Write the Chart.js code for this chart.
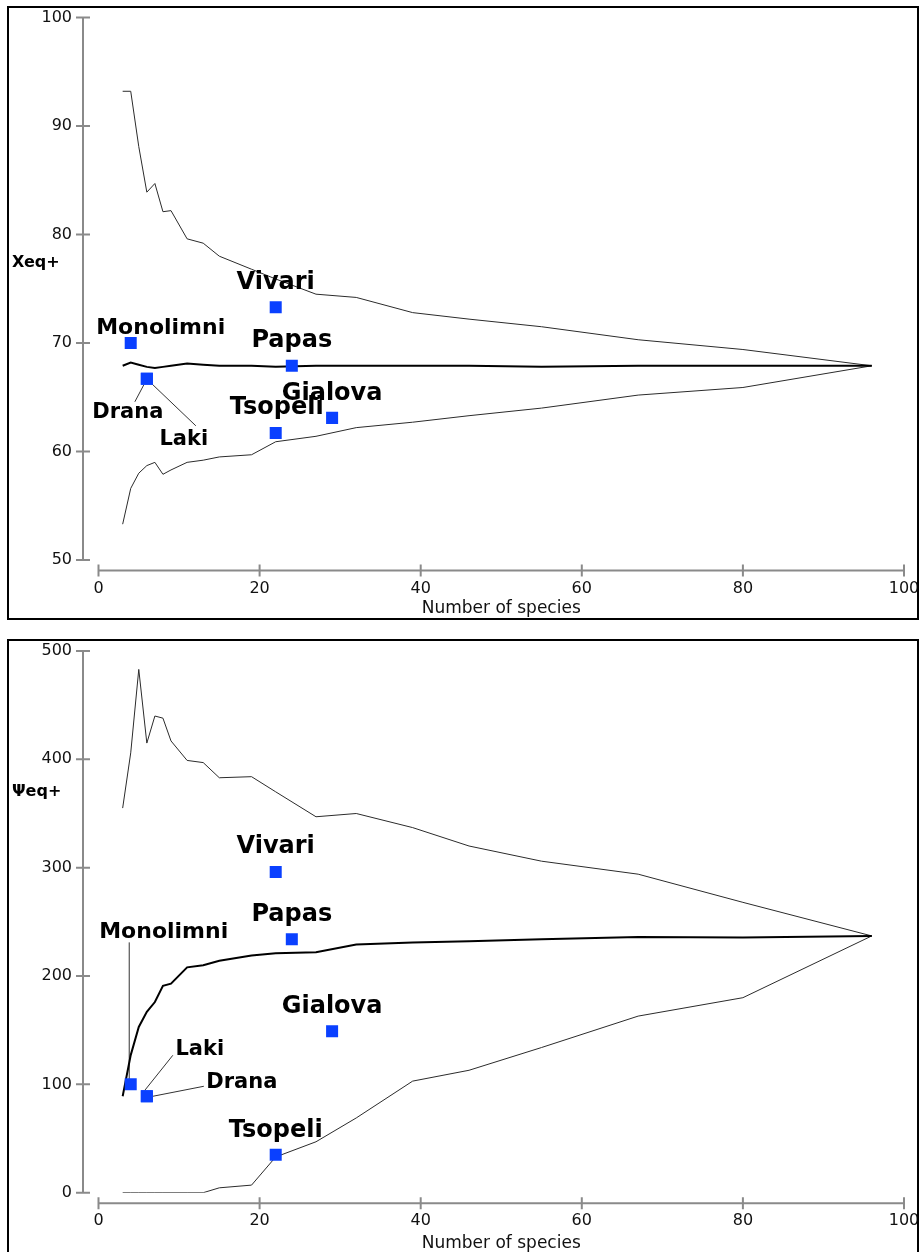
<!DOCTYPE html>
<html>
<head>
<meta charset="utf-8">
<script src="https://cdn.jsdelivr.net/npm/chart.js@4/dist/chart.umd.min.js"></script>
<style>
  html, body { margin: 0; padding: 0; background: #fff; width: 924px; height: 1252px; overflow: hidden; }
  .panel { position: absolute; left: 7px; width: 908px; border: 2px solid #000; background: #fff; }
  #p1 { top: 6px; height: 610px; }
  #p2 { top: 639px; height: 612px; }
  canvas { display: block; }
</style>
</head>
<body>
<div class="panel" id="p1"><canvas id="c1" width="908" height="610"></canvas></div>
<div class="panel" id="p2"><canvas id="c2" width="908" height="612"></canvas></div>
<script>
// Rarefaction steps (number of species) for the expected-value envelopes
const speciesSteps = [3, 4, 5, 6, 7, 8, 9, 11, 13, 15, 19, 22, 27, 32, 39, 46, 55, 67, 80, 96];

// Xeq+ : upper limit, mean, lower limit
const xeqUpper = [93.2, 93.2, 88.1, 83.9, 84.7, 82.1, 82.2, 79.6, 79.2, 78.0, 76.8, 75.9, 74.5, 74.2, 72.8, 72.2, 71.5, 70.3, 69.4, 67.9];
const xeqMean  = [67.9, 68.2, 68.0, 67.8, 67.7, 67.8, 67.9, 68.1, 68.0, 67.9, 67.9, 67.8, 67.9, 67.9, 67.9, 67.9, 67.8, 67.9, 67.9, 67.9];
const xeqLower = [53.3, 56.6, 58.0, 58.7, 59.0, 57.9, 58.3, 59.0, 59.2, 59.5, 59.7, 60.9, 61.4, 62.2, 62.7, 63.3, 64.0, 65.2, 65.9, 67.9];

// Ψeq+ : upper limit, mean, lower limit
const psiUpper = [355, 406, 483, 415, 440, 438, 417, 399, 397, 383, 384, 370, 347, 350, 337, 320, 306, 294, 268, 237];
const psiMean  = [89, 127, 153, 167, 176, 191, 193, 208, 210, 214, 219, 221, 222, 229, 231, 232, 234, 236, 235.5, 237];
const psiLower = [0, 0, 0, 0, 0, 0, 0, 0, 0, 4.5, 7, 33, 47, 69, 103, 113, 134, 163, 180, 237];

// Sampled sites
const sites       = ['Monolimni', 'Drana', 'Laki', 'Vivari', 'Papas', 'Gialova', 'Tsopeli'];
const siteSpecies = [4, 6, 6, 22, 24, 29, 22];
const siteXeq     = [70.0, 66.7, 66.7, 73.3, 67.9, 63.1, 61.7];
const sitePsi     = [100, 89, 89, 296, 234, 149, 35];

// Axis ticks
const xTicks   = [0, 20, 40, 60, 80, 100];
const xeqTicks = [50, 60, 70, 80, 90, 100];
const psiTicks = [0, 100, 200, 300, 400, 500];

// Placement of the site names around their markers (pixels)
const xeqLabelLayout = {
  Monolimni: { dx: 30, dy: -9, size: 22 },
  Drana:     { dx: -19, dy: 39, size: 21, leader: [-3, 6, -12, 23] },
  Laki:      { dx: 37, dy: 66, size: 21, leader: [5, 5, 49, 47] },
  Vivari:    { dx: 0, dy: -18, size: 24 },
  Papas:     { dx: 0, dy: -19, size: 24 },
  Gialova:   { dx: 0, dy: -18, size: 24 },
  Tsopeli:   { dx: 1, dy: -19, size: 24 }
};
const psiLabelLayout = {
  Monolimni: { dx: 33, dy: -146, size: 22, leader: [-1.5, -142, -1.5, -2] },
  Drana:     { dx: 95, dy: -8, size: 21, leader: [6, 0, 57, -10] },
  Laki:      { dx: 53, dy: -41, size: 21, leader: [-2, -6, 26, -41] },
  Vivari:    { dx: 0, dy: -19, size: 24 },
  Papas:     { dx: 0, dy: -18, size: 24 },
  Gialova:   { dx: 0, dy: -18, size: 24 },
  Tsopeli:   { dx: 0, dy: -18, size: 24 }
};

Chart.defaults.font.family = '"DejaVu Sans", sans-serif';
Chart.defaults.color = '#111';

const toPoints = (xs, ys) => xs.map((x, i) => ({ x: x, y: ys[i] }));

// Keep the plot area fixed: tick labels may overhang the frame
const noOverhang = s => { s.paddingTop = 0; s.paddingBottom = 0; s.paddingLeft = 0; s.paddingRight = 0; };

// Detached axes: a grey line with crossing tick marks, offset from the plot area
const detachedAxes = {
  id: 'detachedAxes',
  beforeDatasetsDraw(chart) {
    const { ctx, scales: { x, y }, chartArea } = chart;
    ctx.save();
    ctx.strokeStyle = '#8a8a8a';
    ctx.lineWidth = 2;
    const ax = chartArea.left - 15.5;
    const ay = chartArea.bottom + 10.5;
    const yTop = y.getPixelForValue(y.max), yBot = y.getPixelForValue(y.min);
    ctx.beginPath();
    ctx.moveTo(ax, yTop); ctx.lineTo(ax, yBot);
    y.ticks.forEach(t => {
      const py = y.getPixelForValue(t.value);
      ctx.moveTo(ax - 7, py); ctx.lineTo(ax + 7, py);
    });
    const xL = x.getPixelForValue(x.min), xR = x.getPixelForValue(x.max);
    ctx.moveTo(xL, ay); ctx.lineTo(xR, ay);
    x.ticks.forEach(t => {
      const px = x.getPixelForValue(t.value);
      ctx.moveTo(px, ay - 6); ctx.lineTo(px, ay + 6);
    });
    ctx.stroke();
    ctx.restore();
  }
};

// Site names, leader lines and the horizontal y-axis caption
const siteLabels = {
  id: 'siteLabels',
  beforeDatasetsDraw(chart, args, opts) {
    const { ctx, scales: { x, y } } = chart;
    ctx.save();
    ctx.strokeStyle = '#333';
    ctx.lineWidth = 1;
    sites.forEach((name, i) => {
      const l = opts.layout[name];
      if (!l.leader) return;
      const px = x.getPixelForValue(siteSpecies[i]);
      const py = y.getPixelForValue(opts.values[i]);
      ctx.beginPath();
      ctx.moveTo(px + l.leader[0], py + l.leader[1]);
      ctx.lineTo(px + l.leader[2], py + l.leader[3]);
      ctx.stroke();
    });
    ctx.restore();
  },
  afterDatasetsDraw(chart, args, opts) {
    const { ctx, scales: { x, y } } = chart;
    ctx.save();
    ctx.fillStyle = '#000';
    ctx.textAlign = 'center';
    ctx.textBaseline = 'alphabetic';
    sites.forEach((name, i) => {
      const l = opts.layout[name];
      const px = x.getPixelForValue(siteSpecies[i]);
      const py = y.getPixelForValue(opts.values[i]);
      ctx.font = 'bold ' + l.size + 'px "DejaVu Sans"';
      ctx.fillText(name, px + l.dx, py + l.dy);
    });
    ctx.textAlign = 'left';
    ctx.font = 'bold 16px "DejaVu Sans"';
    ctx.fillText(opts.axisCaption, 3, opts.captionBaseline);
    ctx.restore();
  }
};

function makeChart(canvasId, upper, mean, lower, values, yTicks, layout, caption, captionBaseline, topPad, xAxisHeight) {
  return new Chart(document.getElementById(canvasId), {
    type: 'scatter',
    data: {
      datasets: [
        {
          label: 'Sites',
          data: toPoints(siteSpecies, values),
          pointStyle: 'rect',
          pointRadius: 8.5,
          pointHoverRadius: 8.5,
          backgroundColor: '#0a40ff',
          borderWidth: 0,
          showLine: false
        },
        {
          label: 'Mean',
          data: toPoints(speciesSteps, mean),
          showLine: true, pointRadius: 0, borderColor: '#000', borderWidth: 2, tension: 0
        },
        {
          label: 'Upper limit',
          data: toPoints(speciesSteps, upper),
          showLine: true, pointRadius: 0, borderColor: '#2b2b2b', borderWidth: 1, tension: 0
        },
        {
          label: 'Lower limit',
          data: toPoints(speciesSteps, lower),
          showLine: true, pointRadius: 0, borderColor: '#2b2b2b', borderWidth: 1, tension: 0
        }
      ]
    },
    options: {
      responsive: false,
      animation: false,
      events: [],
      layout: { autoPadding: false, padding: { left: 0, right: 13, top: topPad, bottom: 0 } },
      plugins: {
        legend: { display: false },
        tooltip: { enabled: false },
        siteLabels: { layout: layout, values: values, axisCaption: caption, captionBaseline: captionBaseline }
      },
      scales: {
        x: {
          type: 'linear',
          min: xTicks[0], max: xTicks[xTicks.length - 1],
          afterBuildTicks: s => { s.ticks = xTicks.map(v => ({ value: v })); },
          afterFit: s => { s.height = xAxisHeight; noOverhang(s); },
          grid: { display: false, drawTicks: false },
          border: { display: false },
          ticks: { padding: 19, font: { size: 16 }, color: '#111', maxRotation: 0, autoSkip: false },
          title: { display: true, text: 'Number of species', font: { size: 17 }, color: '#111', padding: { top: 0, bottom: -1 } }
        },
        y: {
          type: 'linear',
          min: yTicks[0], max: yTicks[yTicks.length - 1],
          afterBuildTicks: s => { s.ticks = yTicks.map(v => ({ value: v })); },
          afterFit: s => { s.width = 89.5; noOverhang(s); },
          grid: { display: false, drawTicks: false },
          border: { display: false },
          ticks: { padding: 26.5, font: { size: 16 }, color: '#111', autoSkip: false }
        }
      }
    },
    plugins: [detachedAxes, siteLabels]
  });
}

makeChart('c1', xeqUpper, xeqMean, xeqLower, siteXeq, xeqTicks, xeqLabelLayout, 'Xeq+', 258.7, 9.5, 58);
makeChart('c2', psiUpper, psiMean, psiLower, sitePsi, psiTicks, psiLabelLayout, 'Ψeq+', 155, 10, 60.3);
</script>
</body>
</html>
